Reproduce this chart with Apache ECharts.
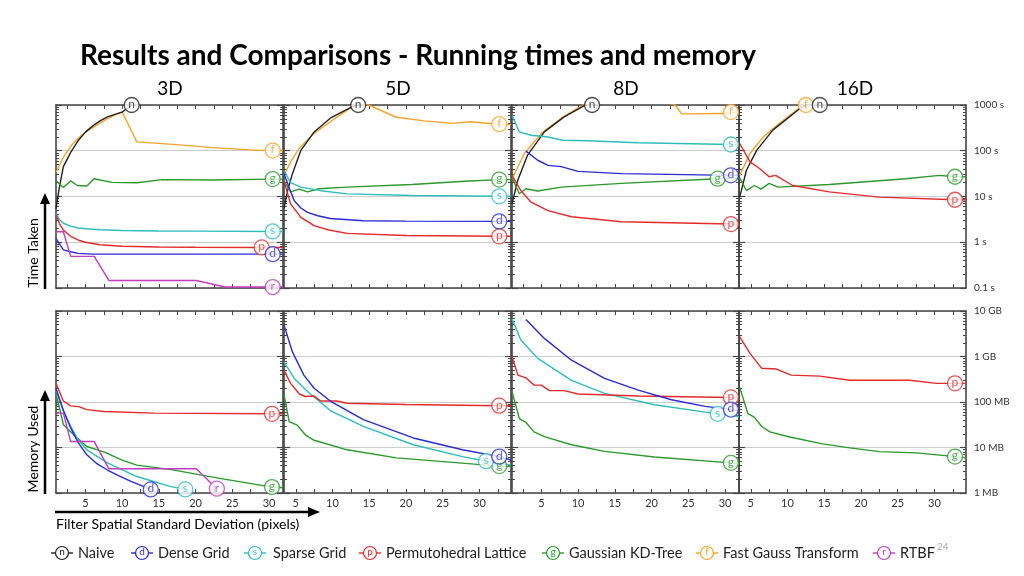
<!DOCTYPE html>
<html><head><meta charset="utf-8">
<script src="https://cdn.jsdelivr.net/npm/echarts@6/dist/echarts.min.js"></script>
<style>html,body{margin:0;padding:0;background:#fff}#c{width:1024px;height:576px}</style>
</head><body><div id="c"></div>
<script>
// ---------------- DATA ----------------
const TITLE = 'Results and Comparisons - Running times and memory';
const PANEL_TITLES = ['3D', '5D', '8D', '16D'];
const X_RANGES = [[1, 31.9], [3.4, 34.3], [1, 31.9], [3.4, 34.3]];
const X_TICKS = [2.5, 5, 7.5, 10, 12.5, 15, 17.5, 20, 22.5, 25, 27.5, 30, 32.5];
const X_LABELS = [5, 10, 15, 20, 25, 30];
const TIME_TICKS = [0.1, 1, 10, 100, 1000];
const TIME_TICK_LABELS = ['0.1 s', '1 s', '10 s', '100 s', '1000 s'];
const MEM_TICKS = [1, 10, 100, 1000, 10000];            // in MB
const MEM_TICK_LABELS = ['1 MB', '10 MB', '100 MB', '1 GB', '10 GB'];
const SERIES_KEYS = ['n', 'd', 's', 'p', 'g', 'f', 'r'];
const SERIES_NAMES = ['Naive', 'Dense Grid', 'Sparse Grid', 'Permutohedral Lattice', 'Gaussian KD-Tree', 'Fast Gauss Transform', 'RTBF'];
const Y_TITLES = ['Time Taken', 'Memory Used'];
const X_TITLE = 'Filter Spatial Standard Deviation (pixels)';
const SLIDE_NO = '24';

// Time (seconds) — 3D
const time3D_fgt = [[1,34],[2,72],[3,125],[4,185],[5,255],[6,320],[7,400],[8,500],[9,600],[10,710],[12,156],[15,145],[18.7,131],[22.3,117],[28.5,102],[30.5,101],[31.9,101]];
const time3D_naive = [[1,5.4],[1.4,14],[2,45],[3,92],[4,165],[5,255],[6,350],[7,450],[8,550],[9,625],[10,700],[10.7,850],[11.3,1000]];
const time3D_gauss = [[1,22],[2,15.8],[3,22],[3.9,17.4],[5.2,17],[6.2,24.5],[8.6,20.4],[12,20],[15.5,23.4],[22.3,23],[30.5,24],[31.9,24]];
const time3D_sparse = [[1,4.2],[1.5,3.1],[2,2.6],[3,2.25],[4,2.05],[5,1.97],[7,1.87],[10,1.8],[15,1.76],[20,1.75],[30.5,1.72],[31.9,1.72]];
const time3D_permuto = [[1,4.0],[1.5,2.5],[2,1.85],[3,1.35],[4,1.12],[5,1.0],[7,0.88],[10,0.82],[15,0.79],[20,0.78],[29,0.77],[31.9,0.77]];
const time3D_dense = [[1,1.2],[2,0.68],[3,0.62],[4,0.57],[6,0.55],[30.5,0.55],[31.9,0.55]];
const time3D_rtbf = [[1,1.7],[2,1.7],[3,0.49],[6.2,0.49],[8.2,0.146],[20.1,0.146],[24,0.105],[31.9,0.105]];
const time3D_marks = {n:11.3, f:30.5, g:30.5, s:30.5, p:29, d:30.5, r:30.5};

// Time — 5D
const time5D_fgt = [[3.4,29],[4.3,57],[5.45,112],[7.5,240],[9.7,430],[12.7,920],[13.8,1150],[14.9,1000],[18.7,540],[22.5,450],[26.4,396],[28.6,430],[32.7,380],[34.3,375]];
const time5D_naive = [[3.4,5.5],[3.9,13.8],[4.55,31.6],[5.7,102],[7.5,258],[9.7,515],[12.7,920],[13.5,1000]];
const time5D_gauss = [[3.4,22],[4.3,12.6],[5.45,14.5],[6.6,12.6],[8.15,14.8],[12,16],[20.8,18.3],[28,21.5],[32.7,23.4],[34.3,23.4]];
const time5D_sparse = [[3.4,37],[4.3,20],[5.7,16],[8.4,13.4],[12,11.4],[20.9,10.5],[32.7,10.1],[34.3,10.1]];
const time5D_dense = [[3.4,32],[4.2,14],[4.8,8.1],[5.7,5.6],[6.6,4.5],[8,3.8],[9.7,3.3],[14.2,2.95],[20,2.9],[32.7,2.86],[34.3,2.86]];
const time5D_permuto = [[3.4,22],[4.3,6.9],[5.7,3.5],[7.5,2.3],[9.5,1.85],[12,1.56],[20,1.4],[32.7,1.35],[34.3,1.35]];
const time5D_marks = {n:13.5, f:32.7, g:32.7, s:32.7, d:32.7, p:32.7};

// Time — 8D
const time8D_fgt = [[1,24.5],[2.7,87],[5,240],[7.7,515],[10.5,960],[11,1100],[15,1500],[20,1400],[23.2,1000],[24.1,640],[30,650],[30.8,700],[31.9,700]];
const time8D_naive = [[1,6.9],[1.76,22],[3.1,79],[5.4,258],[8.1,550],[10.9,985],[11.2,1000]];
const time8D_sparse = [[1,600],[2,258],[3.6,218],[5.9,200],[7.9,170],[11.3,165],[18.1,150],[30.8,137],[31.9,137]];
const time8D_dense = [[2.9,98],[4.5,62],[5.9,48],[7.7,45],[10,35.5],[15.9,31.6],[30.8,29],[31.9,29]];
const time8D_gauss = [[1,25.6],[2,11.5],[2.9,14.8],[4.5,13.2],[7.7,16],[15.9,19.4],[29,24.5],[31.9,25]];
const time8D_permuto = [[1,29],[2.2,13.5],[3.6,7.5],[5.9,4.9],[9.1,3.6],[15.9,2.8],[30.8,2.5],[31.9,2.5]];
const time8D_marks = {n:11.9, f:30.8, s:30.8, d:30.8, g:29, p:30.8};

// Time — 16D
const time16D_fgt = [[3.5,29],[4.9,87],[6.7,200],[8.9,396],[11.9,920],[12.3,1000]];
const time16D_naive = [[3.5,9.7],[4.4,37],[5.8,102],[8,282],[11.9,890],[12.6,1000]];
const time16D_gauss = [[3.5,25.6],[4.4,13.5],[5.5,17.4],[6.4,14.5],[7.5,19.4],[8.7,16],[15.7,18.3],[26.1,24.5],[30.7,29],[32.8,27],[34.3,27]];
const time16D_permuto = [[3.5,144],[4.9,57],[6.2,41],[7.5,27],[8.4,29],[10.7,17.4],[15.7,12.6],[22.5,9.7],[32.8,8.5],[34.3,8.5]];
const time16D_marks = {f:12.5, n:14.4, g:32.8, p:32.8};

// Memory (MB) — 3D
const mem3D_permuto = [[1,257],[2,105],[3,82],[4.1,79],[5.2,68],[7.5,62],[14.3,57],[30.4,55],[31.9,55]];
const mem3D_dense = [[1,200],[2,65],[3,27],[4,13],[5.2,6.9],[6.5,4.5],[8,3.2],[9.5,2.4],[11.2,1.8],[13.9,1.2]];
const mem3D_sparse = [[1,183],[2,65],[3,29],[4,15],[5.2,8.9],[8,4.6],[12,2.3],[16.5,1.4],[18.6,1.2]];
const mem3D_gauss = [[1,155],[2,32],[3.4,19],[5.2,10.5],[7.6,7.9],[10,5.3],[12,4.1],[16.5,3.3],[23.3,2.1],[30.4,1.35],[31.9,1.3]];
const mem3D_rtbf = [[1,57],[2,57],[3,13.5],[6.2,13.5],[8.2,3.4],[20.1,3.4],[23,1.2]];
const mem3D_marks = {p:30.4, d:13.9, s:18.6, r:22.9, g:30.4};

// Memory — 5D
const mem5D_dense = [[3.4,4900],[4.55,1260],[6.1,390],[7.5,200],[9.7,105],[14.2,41],[21,16.2],[27.7,8.9],[32.7,6.3],[34.3,5.3]];
const mem5D_sparse = [[3.4,760],[4.8,330],[6.6,170],[9.7,65],[14.2,29],[21,11.5],[27.7,6.3],[30.9,5],[34.3,4.1]];
const mem5D_permuto = [[3.4,500],[4.3,257],[5.5,150],[6.3,132],[7.5,135],[8.4,105],[10.6,105],[12,94],[20,88],[32.7,83],[34.3,83]];
const mem5D_gauss = [[3.4,145],[4.1,37],[5.2,31],[6.3,19],[7.5,14.4],[12,8.9],[18.7,5.9],[32.7,3.9],[34.3,3.8]];
const mem5D_marks = {p:32.7, d:32.7, s:30.9, g:32.7};

// Memory — 8D
const mem8D_dense = [[2.9,6500],[5.4,2500],[9.1,830],[13.6,330],[18.2,183],[22.7,112],[27.3,80],[30.9,68],[31.9,64]];
const mem8D_sparse = [[1,6800],[2.2,2300],[4.5,910],[9.1,300],[13.6,155],[20.4,87],[27.3,60],[29,55],[31.9,48]];
const mem8D_permuto = [[1,1000],[1.8,390],[2.9,340],[4,235],[5,235],[6.1,178],[8.1,178],[10,150],[18.2,135],[30.8,126],[31.9,126]];
const mem8D_gauss = [[1,170],[2,43],[2.9,35.5],[4,22],[5.4,17.4],[9.1,11.5],[13.6,8.2],[20.4,6.2],[30.8,4.6],[31.9,4.5]];
const mem8D_marks = {p:30.8, d:30.8, s:29, g:30.8};

// Memory — 16D
const mem16D_permuto = [[3.5,2700],[4.9,1170],[6.5,550],[8.5,530],[10.5,390],[14.4,370],[18.5,300],[26.6,300],[30.3,257],[34.3,257]];
const mem16D_gauss = [[3.5,210],[4.6,56],[5.5,46],[6.5,29],[7.6,22],[10.3,17],[14.8,12],[18.5,9.8],[22.5,8.1],[27.5,7.6],[32.9,6.3],[34.3,5.9]];
const mem16D_marks = {p:32.8, g:32.8};

// ---------------- LAYOUT / STYLE ----------------
const FONT = 'Lato, "Open Sans", sans-serif';
const COLORS = {n:'#222222', d:'#2a2ad6', s:'#2dbdbd', p:'#e42a2a', g:'#2a9a2a', f:'#f5a22a', r:'#c23cc2'};
const DRAW_ORDER = ['f', 'n', 'g', 's', 'p', 'd', 'r'];
const COL_LEFT = [56, 284, 512, 739];
const COL_W = 227;
const ROW_TOP = [105, 311];
const ROW_H = [183, 182];
const AXIS_COLOR = '#454545';

const panels = [
  {row:0, col:0, lines:{f:time3D_fgt, n:time3D_naive, g:time3D_gauss, s:time3D_sparse, p:time3D_permuto, d:time3D_dense, r:time3D_rtbf}, marks:time3D_marks},
  {row:0, col:1, lines:{f:time5D_fgt, n:time5D_naive, g:time5D_gauss, s:time5D_sparse, p:time5D_permuto, d:time5D_dense}, marks:time5D_marks},
  {row:0, col:2, lines:{f:time8D_fgt, n:time8D_naive, g:time8D_gauss, s:time8D_sparse, p:time8D_permuto, d:time8D_dense}, marks:time8D_marks},
  {row:0, col:3, lines:{f:time16D_fgt, n:time16D_naive, g:time16D_gauss, p:time16D_permuto}, marks:time16D_marks},
  {row:1, col:0, lines:{g:mem3D_gauss, s:mem3D_sparse, p:mem3D_permuto, d:mem3D_dense, r:mem3D_rtbf}, marks:mem3D_marks},
  {row:1, col:1, lines:{g:mem5D_gauss, s:mem5D_sparse, p:mem5D_permuto, d:mem5D_dense}, marks:mem5D_marks},
  {row:1, col:2, lines:{g:mem8D_gauss, s:mem8D_sparse, p:mem8D_permuto, d:mem8D_dense}, marks:mem8D_marks},
  {row:1, col:3, lines:{g:mem16D_gauss, p:mem16D_permuto}, marks:mem16D_marks}
];

function minorTicks(ticks) {
  const out = [];
  for (let i = 0; i < ticks.length - 1; i++)
    for (let k = 2; k <= 9; k++) out.push(+(k * ticks[i]).toPrecision(4));
  return out;
}
function logInterp(arr, x) {
  if (x <= arr[0][0]) return arr[0][1];
  const last = arr[arr.length - 1];
  if (x >= last[0]) return last[1];
  for (let i = 0; i < arr.length - 1; i++) {
    const a = arr[i], b = arr[i + 1];
    if (x >= a[0] && x <= b[0]) {
      const t = (x - a[0]) / (b[0] - a[0]);
      return Math.pow(10, Math.log10(a[1]) + t * (Math.log10(b[1]) - Math.log10(a[1])));
    }
  }
  return last[1];
}

const grids = [], xAxes = [], yAxes = [], series = [];
const lineStyleAxis = {color: AXIS_COLOR, width: 1.6};

panels.forEach((pn, i) => {
  const {row, col} = pn;
  grids.push({left: COL_LEFT[col], top: ROW_TOP[row], width: COL_W, height: ROW_H[row], containLabel: false});
  const [xmin, xmax] = X_RANGES[col];
  const xb = xAxes.length;
  const xBase = {type:'value', gridIndex:i, min:xmin, max:xmax, splitLine:{show:false},
    axisLine:{show:true, onZero:false, lineStyle:lineStyleAxis},
    axisTick:{show:true, inside:true, length:4, customValues:X_TICKS, lineStyle:{color:AXIS_COLOR, width:1}}};
  xAxes.push(Object.assign({}, xBase, {position:'bottom',
    axisLabel:{show: row === 1, customValues:X_LABELS, fontSize:11, color:'#333', margin:5, fontFamily:FONT}}));
  xAxes.push(Object.assign({}, xBase, {position:'top', axisLabel:{show:false}}));

  const ticks = row === 0 ? TIME_TICKS : MEM_TICKS;
  const tickLabels = row === 0 ? TIME_TICK_LABELS : MEM_TICK_LABELS;
  const minor = minorTicks(ticks);
  const yb = yAxes.length;
  const yBase = {type:'log', logBase:10, gridIndex:i, min:ticks[0], max:ticks[ticks.length - 1],
    axisLine:{show:false}, axisLabel:{show:false}, splitLine:{show:false}, axisTick:{show:false}};
  yAxes.push(Object.assign({}, yBase, {position:'left',
    axisLine:{show:true, onZero:false, lineStyle:lineStyleAxis},
    axisTick:{show:true, inside:true, length:6, customValues:ticks, lineStyle:{color:AXIS_COLOR, width:1.2}},
    splitLine:{show:true, lineStyle:{color:'#cdcdcd', width:1}}}));
  yAxes.push(Object.assign({}, yBase, {position:'left',
    axisTick:{show:true, inside:true, length:3, customValues:minor, lineStyle:{color:AXIS_COLOR, width:1}}}));
  yAxes.push(Object.assign({}, yBase, {position:'right',
    axisLine:{show:true, onZero:false, lineStyle:lineStyleAxis},
    axisTick:{show:true, inside:true, length:6, customValues:ticks, lineStyle:{color:AXIS_COLOR, width:1.2}},
    axisLabel: col === 3 ? {show:true, customValues:ticks, fontSize:10, color:'#333', margin:8, fontFamily:FONT,
      formatter: v => { const k = ticks.findIndex(t => Math.abs(Math.log10(t) - Math.log10(v)) < 1e-6); return k >= 0 ? tickLabels[k] : ''; }}
      : {show:false}}));
  yAxes.push(Object.assign({}, yBase, {position:'right',
    axisTick:{show:true, inside:true, length:3, customValues:minor, lineStyle:{color:AXIS_COLOR, width:1}}}));

  DRAW_ORDER.forEach(key => {
    const arr = pn.lines[key];
    if (!arr) return;
    series.push({type:'line', name:key, xAxisIndex:xb, yAxisIndex:yb, data:arr, showSymbol:false, symbol:'none',
      lineStyle:{color:COLORS[key], width:1.4}, itemStyle:{color:COLORS[key]}, z:2, silent:true, animation:false, clip:true});
  });
  DRAW_ORDER.forEach(key => {
    const arr = pn.lines[key];
    if (!arr || pn.marks[key] === undefined) return;
    const mx = pn.marks[key];
    series.push({type:'scatter', xAxisIndex:xb, yAxisIndex:yb, data:[[mx, logInterp(arr, mx)]],
      symbol:'circle', symbolSize:15, clip:false, silent:true, animation:false, z:5,
      itemStyle:{color:'#ffffff', borderColor:COLORS[key], borderWidth:1.3},
      label:{show:true, position:'inside', formatter:key, color:COLORS[key], fontSize:12, fontFamily:FONT, offset:[0,-1]}});
  });
});

// ---------------- GRAPHIC TEXT / ARROWS / LEGEND ----------------
const graphic = [];
graphic.push({type:'text', x:80, y:56, style:{text:TITLE, font:'bold 28px ' + FONT, fill:'#000', textAlign:'left', textVerticalAlign:'middle'}});
const PANEL_TITLE_X = [170, 398, 626, 855];
PANEL_TITLES.forEach((t, i) => graphic.push({type:'text', x:PANEL_TITLE_X[i], y:89,
  style:{text:t, font:'19px ' + FONT, fill:'#000', textAlign:'center', textVerticalAlign:'middle'}}));
const Y_TITLE_Y = [253, 449];
const ARROW_Y = [[289, 193], [494, 390]];
Y_TITLES.forEach((t, i) => {
  graphic.push({type:'text', x:33, y:Y_TITLE_Y[i], rotation:Math.PI / 2,
    style:{text:t, font:'14px ' + FONT, fill:'#000', textAlign:'center', textVerticalAlign:'middle'}});
  const [yb, yt] = ARROW_Y[i];
  graphic.push({type:'line', shape:{x1:45, y1:yb, x2:45, y2:yt + 9}, style:{stroke:'#000', lineWidth:2.5}});
  graphic.push({type:'polygon', shape:{points:[[40, yt + 11], [50, yt + 11], [45, yt]]}, style:{fill:'#000'}});
});
graphic.push({type:'line', shape:{x1:55, y1:512, x2:310, y2:512}, style:{stroke:'#000', lineWidth:2.5}});
graphic.push({type:'polygon', shape:{points:[[308, 507], [308, 517], [320, 512]]}, style:{fill:'#000'}});
graphic.push({type:'text', x:56, y:524, style:{text:X_TITLE, font:'14px ' + FONT, fill:'#000', textAlign:'left', textVerticalAlign:'middle'}});

const LEG_ICON_X = [62, 142, 255, 370, 553, 707, 884];
const LEG_TEXT_X = [78, 158, 273, 386, 569, 723, 900];
const LEG_Y = 553;
SERIES_KEYS.forEach((k, j) => {
  const cx = LEG_ICON_X[j], c = COLORS[k];
  graphic.push({type:'line', shape:{x1:cx - 11, y1:LEG_Y, x2:cx + 11, y2:LEG_Y}, style:{stroke:c, lineWidth:1.4}});
  graphic.push({type:'circle', shape:{cx:cx, cy:LEG_Y, r:6.5}, style:{fill:'#fff', stroke:c, lineWidth:1.2}});
  graphic.push({type:'text', x:cx, y:LEG_Y - 1, style:{text:k, font:'10px ' + FONT, fill:c, textAlign:'center', textVerticalAlign:'middle'}});
  graphic.push({type:'text', x:LEG_TEXT_X[j], y:LEG_Y, style:{text:SERIES_NAMES[j], font:'14.5px ' + FONT, fill:'#222', textAlign:'left', textVerticalAlign:'middle'}});
});
graphic.push({type:'text', x:937, y:547, style:{text:SLIDE_NO, font:'10px ' + FONT, fill:'#aaa', textAlign:'left', textVerticalAlign:'middle'}});

const chart = echarts.init(document.getElementById('c'), null, {renderer:'canvas', width:1024, height:576});
chart.setOption({
  animation:false,
  backgroundColor:'#ffffff',
  textStyle:{fontFamily:FONT},
  grid:grids, xAxis:xAxes, yAxis:yAxes, series:series, graphic:graphic
});
</script></body></html>
